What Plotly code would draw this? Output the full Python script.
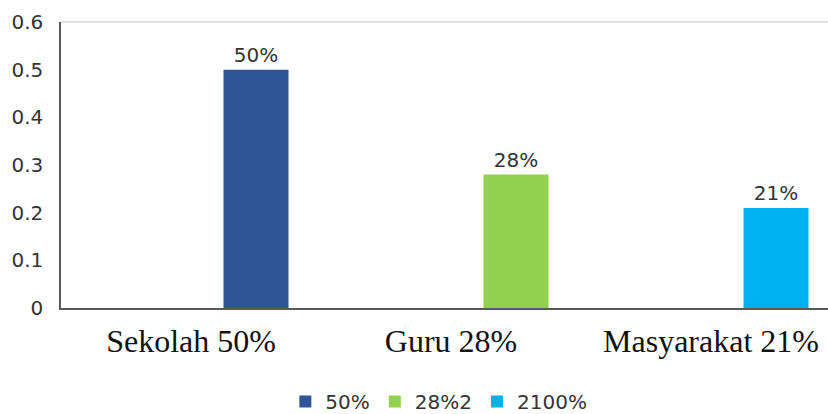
import plotly.graph_objects as go

categories = ["Sekolah 50%", "Guru 28%", "Masyarakat 21%"]
series_names = ["50%", "28%2", "2100%"]
series_values = [
    [0.5, None, None],
    [None, 0.28, None],
    [None, None, 0.21],
]
series_text = [
    ["50%", "", ""],
    ["", "28%", ""],
    ["", "", "21%"],
]
colors = ["#2F5597", "#92D050", "#00B0F0"]
y_ticks = [0, 0.1, 0.2, 0.3, 0.4, 0.5, 0.6]
y_tick_labels = ["0", "0.1", "0.2", "0.3", "0.4", "0.5", "0.6"]

sans = "DejaVu Sans"
fig = go.Figure()
for name, vals, txt, col in zip(series_names, series_values, series_text, colors):
    fig.add_trace(go.Bar(
        x=categories, y=vals, name=name,
        marker=dict(color=col, line=dict(width=0)),
        width=0.25, offset=0.125,
        text=txt, textposition="outside", cliponaxis=False,
        textfont=dict(family=sans, size=20, color="#333333"),
    ))

fig.update_layout(
    width=828, height=414,
    margin=dict(l=61, r=0, t=22, b=106, autoexpand=False),
    barmode="overlay",
    plot_bgcolor="white", paper_bgcolor="white",
    showlegend=True,
    legend=dict(orientation="h", x=0.53, xref="container", xanchor="center",
                y=0.03, yref="container", yanchor="middle",
                font=dict(family=sans, size=20, color="#333333"),
                itemwidth=30, tracegroupgap=0),
    shapes=[dict(type="line", xref="paper", yref="paper", x0=0, x1=1, y0=1, y1=1,
                 line=dict(color="#D9D9D9", width=1.5))],
)
fig.update_xaxes(
    range=[-0.5, 2.45], showline=True, linecolor="#595959", linewidth=1.5,
    showgrid=False, ticks="", ticklabelstandoff=4, automargin=False,
    tickfont=dict(family="Liberation Serif", size=32, color="#111111"),
)
fig.update_yaxes(
    range=[0, 0.6], tickvals=y_ticks, ticktext=y_tick_labels,
    showline=True, linecolor="#595959", linewidth=1.5, automargin=False,
    showgrid=False, zeroline=False, ticks="", ticklabelstandoff=12,
    tickfont=dict(family=sans, size=20, color="#333333"),
)
fig.write_html("out.html")
